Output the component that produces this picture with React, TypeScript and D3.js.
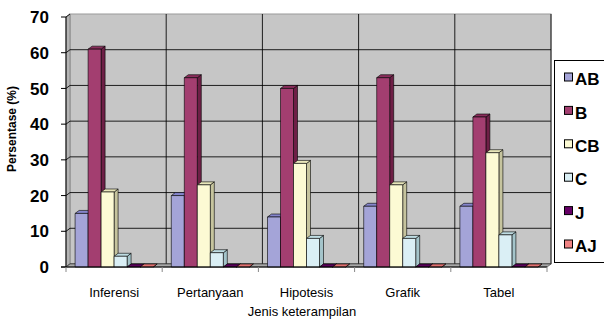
import React from "react";
import * as d3 from "d3";

const categories = ["Inferensi", "Pertanyaan", "Hipotesis", "Grafik", "Tabel"];
const seriesNames = ["AB", "B", "CB", "C", "J", "AJ"];
const valuesAB = [15, 20, 14, 17, 17];
const valuesB = [61, 53, 50, 53, 42];
const valuesCB = [21, 23, 29, 23, 32];
const valuesC = [3, 4, 8, 8, 9];
const valuesJ = [0, 0, 0, 0, 0];
const valuesAJ = [0, 0, 0, 0, 0];
const yTicks = [0, 10, 20, 30, 40, 50, 60, 70];

const seriesValues = [valuesAB, valuesB, valuesCB, valuesC, valuesJ, valuesAJ];
const colors = [
  { front: "#A4A4D8", side: "#7A7AA8", top: "#8585CC" },
  { front: "#A33E70", side: "#6E1F46", top: "#8A2E5C" },
  { front: "#FCFAD4", side: "#C6C49E", top: "#E8E6BA" },
  { front: "#DAEFF5", side: "#A4C4CA", top: "#BFDDE3" },
  { front: "#660066", side: "#440044", top: "#5A005A" },
  { front: "#F08484", side: "#B85E5E", top: "#E07070" },
];

const W = 604;
const H = 322;
const left = 66;
const right = 547;
const bottom = 267;
const top = 17;
const dx = 4;
const dy = -3;
const FONT = "Liberation Sans, Arial, sans-serif";

export default function App() {
  const y = d3.scaleLinear().domain([0, 70]).range([bottom, top]);
  const x = d3.scaleBand<string>().domain(categories).range([left, right]).padding(0);
  const xs = d3
    .scaleBand<string>()
    .domain(seriesNames)
    .range([0, x.bandwidth()])
    .paddingInner(0)
    .paddingOuter(0.7);
  const bw = xs.bandwidth();
  const boundaries = categories.map((c) => x(c)!).concat([right]);

  const pts = (arr: [number, number][]) => arr.map((p) => p.join(",")).join(" ");

  return (
    <svg width={W} height={H} style={{ position: "absolute", left: 0, top: 0 }}>
      <rect x={0} y={0} width={W} height={H} fill="#fff" />
      {/* back wall */}
      <rect x={left + dx} y={top + dy} width={right - left} height={bottom - top} fill="#C6C6C6" stroke="#9a9a9a" strokeWidth={1} />
      {/* left wall */}
      <polygon
        points={pts([
          [left, bottom],
          [left, top],
          [left + dx, top + dy],
          [left + dx, bottom + dy],
        ])}
        fill="#B4B4B4"
        stroke="#808080"
        strokeWidth={0.8}
      />
      {/* horizontal gridlines */}
      {yTicks.map((t) => (
        <g key={"g" + t}>
          <line x1={left + dx} x2={right + dx} y1={y(t) + dy} y2={y(t) + dy} stroke="#000" strokeWidth={1} opacity={t === 70 ? 0 : 0.85} />
          <line x1={left} x2={left + dx} y1={y(t)} y2={y(t) + dy} stroke="#000" strokeWidth={1} opacity={0.85} />
          <line x1={left - 5} x2={left} y1={y(t)} y2={y(t)} stroke="#000" strokeWidth={1} />
          <text x={49} y={y(t)} dy="0.36em" textAnchor="end" fontFamily={FONT} fontWeight="bold" fontSize={17} fill="#000">
            {t}
          </text>
        </g>
      ))}
      {/* vertical gridlines on back wall */}
      {boundaries.slice(1).map((b, i) => (
        <line key={"v" + i} x1={b + dx} x2={b + dx} y1={top + dy} y2={bottom + dy} stroke="#000" strokeWidth={1} opacity={0.85} />
      ))}
      {/* floor */}
      <polygon
        points={pts([
          [left, bottom],
          [right, bottom],
          [right + dx, bottom + dy],
          [left + dx, bottom + dy],
        ])}
        fill="#A8A8A8"
        stroke="#555"
        strokeWidth={0.8}
      />
      {/* y axis line */}
      <line x1={left} x2={left} y1={top} y2={bottom} stroke="#000" strokeWidth={1} />
      {/* bars */}
      {categories.map((c, ci) => (
        <g key={c}>
          {seriesNames.map((s, si) => {
            const v = seriesValues[si][ci];
            const x0 = x(c)! + xs(s)!;
            const x1 = x0 + bw;
            const yt = y(v);
            const col = colors[si];
            return (
              <g key={s} stroke="#000" strokeWidth={0.6} strokeLinejoin="round">
                <polygon
                  points={pts([
                    [x1, bottom],
                    [x1, yt],
                    [x1 + dx, yt + dy],
                    [x1 + dx, bottom + dy],
                  ])}
                  fill={col.side}
                />
                <polygon
                  points={pts([
                    [x0, yt],
                    [x1, yt],
                    [x1 + dx, yt + dy],
                    [x0 + dx, yt + dy],
                  ])}
                  fill={col.top}
                />
                {v > 0 && <rect x={x0} y={yt} width={bw} height={bottom - yt} fill={col.front} />}
              </g>
            );
          })}
        </g>
      ))}
      {/* x axis */}
      <line x1={left - 5} x2={right} y1={bottom} y2={bottom} stroke="#000" strokeWidth={1} />
      {boundaries.map((b, i) => (
        <line key={"t" + i} x1={b} x2={b} y1={bottom} y2={bottom + 5} stroke="#888" strokeWidth={1} />
      ))}
      {categories.map((c) => (
        <text key={"l" + c} x={x(c)! + x.bandwidth() / 2} y={297} textAnchor="middle" fontFamily={FONT} fontSize={13} fill="#000">
          {c}
        </text>
      ))}
      <text x={302} y={316} textAnchor="middle" fontFamily={FONT} fontSize={13} fill="#000">
        Jenis keterampilan
      </text>
      <text transform="translate(16,129) rotate(-90)" textAnchor="middle" fontFamily={FONT} fontWeight="bold" fontSize={12} fill="#000">
        Persentase (%)
      </text>
      {/* legend */}
      <rect x={554.5} y={60.5} width={60} height={202} fill="#fff" stroke="#000" strokeWidth={1} />
      {seriesNames.map((s, i) => {
        const cy = 79 + i * 33.4;
        return (
          <g key={"lg" + s}>
            <rect x={564.5} y={cy - 6} width={8} height={8} fill={colors[i].front} stroke="#000" strokeWidth={1} />
            <text x={575} y={cy} dy="0.36em" fontFamily={FONT} fontWeight="bold" fontSize={17} fill="#000">
              {s}
            </text>
          </g>
        );
      })}
    </svg>
  );
}
